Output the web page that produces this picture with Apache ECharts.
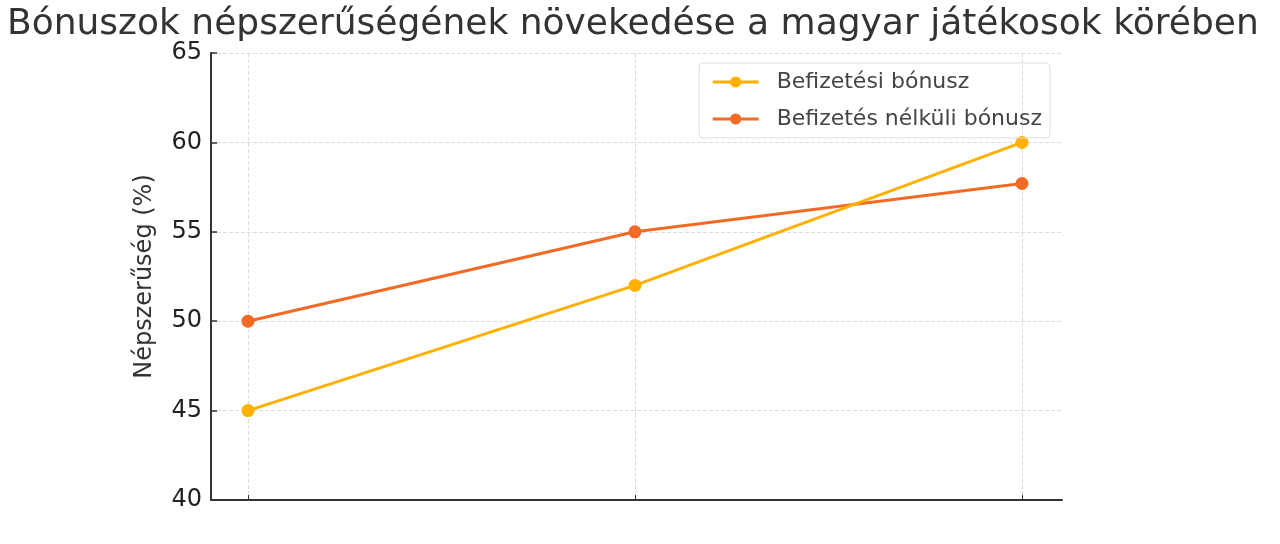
<!DOCTYPE html>
<html>
<head>
<meta charset="utf-8">
<script src="https://cdn.jsdelivr.net/npm/echarts@6/dist/echarts.min.js"></script>
<style>
  html, body { margin: 0; padding: 0; background: #fff; }
  #main { width: 1280px; height: 544px; }
</style>
</head>
<body>
<div id="main"></div>
<script>
// chart data
var categories = ['2021', '2022', '2023'];
var depositBonus = [45, 52, 60];
var noDepositBonus = [50, 55, 57.7];
var yTicks = [40, 45, 50, 55, 60, 65];

var myChart = echarts.init(document.getElementById('main'));

function toPoints(values) {
    return values.map(function (v, i) { return [i, v]; });
}

var font = 'DejaVu Sans';
var option = {
    animation: false,
    title: {
        text: 'Bónuszok népszerűségének növekedése a magyar játékosok körében',
        left: 2,
        top: 2,
        textStyle: { fontFamily: font, fontSize: 36, fontWeight: 'normal', color: '#333' }
    },
    legend: {
        right: 230,
        top: 63,
        orient: 'vertical',
        itemWidth: 46,
        itemHeight: 14,
        itemGap: 15,
        padding: [8, 8, 8, 12],
        borderColor: '#ddd',
        borderWidth: 1,
        borderRadius: 4,
        lineStyle: { width: 3 },
        textStyle: { fontFamily: font, fontSize: 22, color: '#444', padding: [0, 0, 0, 13] },
        data: ['Befizetési bónusz', 'Befizetés nélküli bónusz']
    },
    grid: { left: 211, right: 218, top: 53, bottom: 44 },
    xAxis: {
        type: 'value',
        min: -0.0956,
        max: 2.1034,
        axisLine: { onZero: false, lineStyle: { color: '#333', width: 2 } },
        axisTick: { inside: true, length: 5, lineStyle: { color: '#333' }, customValues: [0, 1, 2] },
        axisLabel: { show: false, customValues: [0, 1, 2], formatter: function (v) { return categories[v]; } },
        splitLine: { show: true, lineStyle: { color: '#ddd', type: 'dashed' } }
    },
    yAxis: {
        type: 'value',
        name: 'Népszerűség (%)',
        nameLocation: 'middle',
        nameGap: 54,
        nameTextStyle: { fontFamily: font, fontSize: 24, color: '#333' },
        min: yTicks[0],
        max: yTicks[yTicks.length - 1],
        interval: 5,
        axisLine: { show: true, onZero: false, lineStyle: { color: '#333', width: 2 } },
        axisTick: { show: true, inside: true, length: 6, lineStyle: { color: '#333', width: 1.5 } },
        axisLabel: { fontFamily: font, fontSize: 24, color: '#222', margin: 9 },
        splitLine: { show: true, lineStyle: { color: '#ddd', type: 'dashed' } }
    },
    series: [
        {
            name: 'Befizetési bónusz',
            type: 'line',
            data: toPoints(depositBonus),
            symbol: 'circle',
            symbolSize: 13,
            itemStyle: { color: '#FFB000' },
            lineStyle: { width: 3, color: '#FFB000' },
            z: 3
        },
        {
            name: 'Befizetés nélküli bónusz',
            type: 'line',
            data: toPoints(noDepositBonus),
            symbol: 'circle',
            symbolSize: 13,
            itemStyle: { color: '#F26B26' },
            lineStyle: { width: 3, color: '#F26B26' },
            z: 2
        }
    ]
};
myChart.setOption(option);
</script>
</body>
</html>
